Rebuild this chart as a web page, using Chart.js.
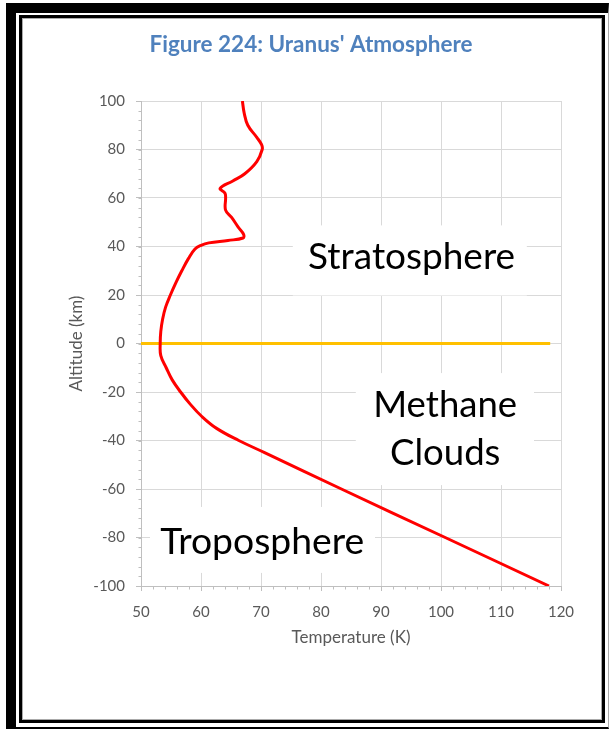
<!DOCTYPE html>
<html>
<head>
<meta charset="utf-8">
<script src="https://cdn.jsdelivr.net/npm/chart.js@4.4.1/dist/chart.umd.min.js"></script>
<style>
  html, body { margin: 0; padding: 0; background: #fff; }
  body { width: 610px; height: 729px; position: relative; overflow: hidden; }
  /* marco exterior grueso */
  #outer { position: absolute; left: 6px; top: 3px; right: 1px; bottom: 0;
           border-left: 10px solid #000; border-top: 10px solid #000;
           border-bottom: 2px solid #000; border-right: 1px solid #aaa; }
  /* marco interior */
  #inner { position: absolute; left: 19px; top: 15px; width: 580px; height: 702px;
           border: 3px solid #000; box-shadow: inset 0 0 0 1px #aaa; background: #fff; }
  #wrap { position: absolute; left: 23px; top: 19px; width: 577px; height: 700px; }
</style>
</head>
<body>
<div id="outer"></div>
<div id="inner"></div>
<div id="wrap"><canvas id="myChart" width="577" height="700"></canvas></div>
<script>
// Datos: perfil de temperatura de la atmósfera de Urano
const altitudeKm = [100, 95, 90, 85, 82, 80, 75, 70, 67, 64, 62, 60, 55, 52, 48, 45, 43.5, 42.5, 41.5, 40.5, 39, 35, 30, 25, 20, 15, 10, 5, 0,
                    -5, -10, -15, -20, -25, -30, -35, -40, -45, -60, -80, -100];
const temperatureK = [66.9, 67.2, 67.8, 69.3, 70.1, 70.2, 69.3, 67.3, 65.3, 63.2, 64.0, 64.1, 64.1, 65.1, 66.2, 67.1, 67.0, 64.5, 61.3, 60.0, 59.0, 57.9, 56.8, 55.8, 54.9, 54.1, 53.6, 53.3, 53.2,
                      53.3, 54.2, 55.2, 56.6, 58.2, 60.1, 62.6, 66.3, 70.6, 83.4, 100.7, 118.0];

// Línea del límite (0 km)
const boundaryTemp = [50, 118.2];
const boundaryAlt = [0, 0];

// Escalas
const xMin = 50, xMax = 120, xStep = 10, xMinorStep = 2;
const yMin = -100, yMax = 100, yStep = 20, yMinorStep = 4;

const titleText = "Figure 224: Uranus' Atmosphere";
const xTitle = 'Temperature (K)';
const yTitle = 'Altitude (km)';

const font = 'Lato, "Open Sans", sans-serif';
const gray = '#595959';

// Etiquetas de las regiones (posiciones en unidades de datos)
const regionLabels = [
  { lines: ['Stratosphere'], x: 95.1, baselines: [30.9], width: 207,
    box: [75.3, 114.3, 48.7, 19.8] },
  { lines: ['Methane', 'Clouds'], x: 100.7, baselines: [-30.3, -50.1], width: 144,
    box: [85.8, 115.5, -12.2, -58.4] },
  { lines: ['Troposphere'], x: 70.2, baselines: [-86.6], width: 204,
    box: [51.5, 89.0, -67.4, -94.6] }
];

const curve = altitudeKm.map((a, i) => ({ x: temperatureK[i], y: a }));
const boundary = boundaryTemp.map((t, i) => ({ x: t, y: boundaryAlt[i] }));

// Plugin: cajas blancas con texto, títulos de ejes y marcas menores
const extrasPlugin = {
  id: 'extras',
  beforeDatasetsDraw(chart) {
    const ctx = chart.ctx;
    const xs = chart.scales.x, ys = chart.scales.y;
    ctx.save();
    regionLabels.forEach(l => {
      const bx1 = xs.getPixelForValue(l.box[0]), bx2 = xs.getPixelForValue(l.box[1]);
      const by1 = ys.getPixelForValue(l.box[2]), by2 = ys.getPixelForValue(l.box[3]);
      ctx.fillStyle = '#fff';
      ctx.fillRect(bx1, by1, bx2 - bx1, by2 - by1);
      // ajustar el tamaño de letra al ancho medido
      let size = 32;
      ctx.font = size + 'px ' + font;
      size = size * l.width / ctx.measureText(l.lines[0]).width;
      ctx.font = size + 'px ' + font;
      ctx.fillStyle = '#000';
      ctx.textAlign = 'center';
      ctx.textBaseline = 'alphabetic';
      l.lines.forEach((t, i) => {
        ctx.fillText(t, xs.getPixelForValue(l.x), ys.getPixelForValue(l.baselines[i]));
      });
    });
    // marcas menores
    ctx.strokeStyle = '#bfbfbf';
    ctx.lineWidth = 1;
    ctx.beginPath();
    const axX = Math.round(xs.getPixelForValue(xMin)) + 0.5;
    for (let v = yMin; v <= yMax; v += yMinorStep) {
      const py = Math.round(ys.getPixelForValue(v)) + 0.5;
      ctx.moveTo(axX - 3, py); ctx.lineTo(axX, py);
    }
    const axY = Math.round(ys.getPixelForValue(yMin)) + 0.5;
    for (let v = xMin; v <= xMax; v += xMinorStep) {
      const px = Math.round(xs.getPixelForValue(v)) + 0.5;
      ctx.moveTo(px, axY); ctx.lineTo(px, axY + 3);
    }
    ctx.stroke();
    ctx.restore();
  },
  afterDraw(chart) {
    const ctx = chart.ctx;
    const a = chart.chartArea;
    ctx.save();
    ctx.fillStyle = gray;
    ctx.font = '17px ' + font;
    ctx.textAlign = 'center';
    ctx.textBaseline = 'middle';
    ctx.fillText(xTitle, (a.left + a.right) / 2, a.bottom + 52);
    ctx.translate(a.left - 64, (a.top + a.bottom) / 2);
    ctx.rotate(-Math.PI / 2);
    ctx.fillText(yTitle, 0, 0);
    ctx.restore();
  }
};

const ctx = document.getElementById('myChart').getContext('2d');

const chart = new Chart(ctx, {
  type: 'scatter',
  data: {
    datasets: [
      {
        label: 'Boundary',
        data: boundary,
        showLine: true,
        borderColor: '#FFC000',
        borderWidth: 3,
        pointRadius: 0,
        order: 2
      },
      {
        label: 'Temperature',
        data: curve,
        showLine: true,
        borderColor: '#FF0000',
        borderWidth: 3,
        pointRadius: 0,
        tension: 0.4,
        order: 1
      }
    ]
  },
  options: {
    responsive: false,
    animation: false,
    layout: { autoPadding: false, padding: { left: 38, right: 39, top: 0, bottom: 0 } },
    plugins: {
      legend: { display: false },
      tooltip: { enabled: false },
      title: {
        display: true,
        text: titleText,
        color: '#4F81BD',
        font: { family: font, size: 22.5, weight: 'bold' },
        padding: { top: 12.5, bottom: 42.5 }
      }
    },
    scales: {
      x: {
        type: 'linear',
        min: xMin, max: xMax,
        afterFit: s => { s.height = 133; },
        ticks: { stepSize: xStep, color: gray, font: { family: font, size: 15 }, padding: 12 },
        grid: { color: '#d9d9d9', tickColor: '#bfbfbf', tickLength: 5 },
        border: { color: '#bfbfbf' }
      },
      y: {
        type: 'linear',
        min: yMin, max: yMax,
        afterFit: s => { s.width = 80; },
        ticks: { stepSize: yStep, color: gray, font: { family: font, size: 15 }, padding: 11 },
        grid: { color: '#d9d9d9', tickColor: '#bfbfbf', tickLength: 5 },
        border: { color: '#bfbfbf' }
      }
    }
  },
  plugins: [extrasPlugin]
});
</script>
</body>
</html>
